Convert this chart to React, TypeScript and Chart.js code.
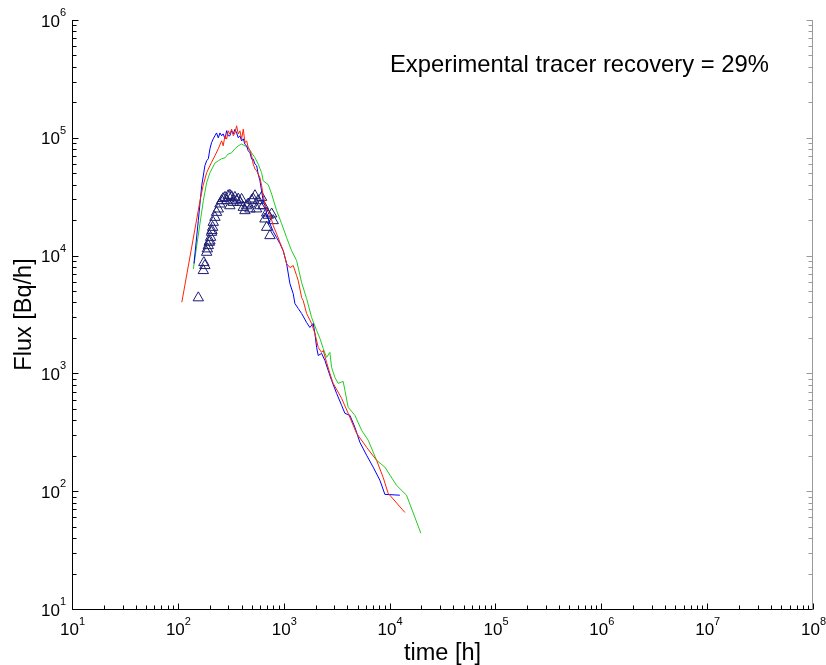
import React, { useEffect, useRef } from "react";
import { Chart, registerables } from "chart.js";

Chart.register(...registerables);

const FONT = "'Liberation Sans', Arial, sans-serif";

// axis decades (tick labels are 10^exp)
const xTickExponents = [1, 2, 3, 4, 5, 6, 7, 8];
const yTickExponents = [1, 2, 3, 4, 5, 6];

const xTitle = "time [h]";
const yTitle = "Flux [Bq/h]";
const annotation = "Experimental tracer recovery = 29%";

// Blue simulation
const blueX = [142,156,168,180,187,194,201,208,216,224,232,241,250,259,268,279,289,299,310,322,334,346,359,372,386,400,415,430,446,462,480,498,515,535,555,574,596,618,640,665,690,714,741,796,857,921,989,1065,1144,1230,1276,1371,1476,1645,1767,1899,1971,2046,2118,2280,2449,2632,2833,3159,3522,3784,4217,4702,5242,6066,7000,8096,9030,12510];
const blueY = [8560,19800,39200,57900,63800,66400,80700,90700,98000,104000,110000,100000,110000,104000,108000,98000,115000,104000,104000,115000,108000,118000,110000,100000,104000,94000,98000,88000,85500,77600,74600,66000,66000,59800,57900,49200,43200,35500,29200,26500,22700,20500,18700,16000,14200,12650,11000,8550,5790,4740,3920,3556,3226,2705,2454,2653,2183,1661,1420,1477,1289,1060,873,677,536,458,441,349,260,202,160,124,94,92.5];

// Red simulation
const redX = [109,162,173,187,194,208,224,241,259,268,279,289,299,310,322,334,346,359,372,386,400,415,430,446,462,480,498,515,535,555,574,596,618,640,690,741,796,857,921,989,1065,1144,1230,1324,1371,1476,1528,1645,1834,1971,2118,2280,2361,2541,2730,2933,3522,4064,4879,6066,7540,8700,9700,13950];
const redY = [4020,29300,39200,50500,54300,61800,70400,80700,94300,85500,104000,97500,114600,107500,118500,104000,110000,126500,107500,114600,97500,118500,90700,94300,82800,77600,70400,59800,54300,52500,49200,45800,39200,32300,24100,22700,17960,15300,12950,11000,8550,7910,8230,6770,6140,4405,4156,3226,2653,2183,1661,1507,1566,1239,1000,823,614,458,310,236,183,131,96,66];

// Green simulation
const greenX = [140,174,187,201,224,241,259,279,299,322,346,372,400,430,462,498,535,574,618,640,714,769,857,955,1065,1187,1324,1476,1645,1834,2046,2198,2361,2541,2730,2833,3045,3271,3646,3784,4064,4702,5440,6281,7540,9030,11650,14460,19750];
const greenY = [7700,29250,41560,50500,61000,63800,66400,67700,72800,74600,80700,85500,88500,85500,82800,74600,67700,59800,50500,43200,39980,33300,24100,18700,14200,11000,9070,5900,4322,2983,2314,1980,1629,1367,1507,1124,925,823,855,718,515,441,329,271,183,160,112,92.5,44];

// Experimental measurements (triangles)
const triX = [156,174,176,180,187,190,194,198,201,204,208,210,213,216,224,232,241,250,259,268,279,289,299,310,310,322,334,346,359,372,386,400,415,430,446,462,480,498,515,535,555,574,596,618,640,665,690,690,714,741,769,796];
const triY = [4381,7464,8720,8230,10670,11400,12150,12960,13300,14290,15760,16300,17370,19160,21120,23280,24880,27420,29250,30500,31200,29250,32260,26500,32500,31620,28300,31200,29250,30200,28290,30000,25670,24070,26500,27420,24900,29500,30240,32260,24900,29250,26500,31200,26530,20460,17370,23000,22000,14770,22560,19800];

const toPts = (xs: number[], ys: number[]) => xs.map((x, i) => ({ x, y: ys[i] }));

const axesPlugin = {
  id: "matlabAxes",
  afterDraw(chart: any) {
    const { ctx, chartArea: a, scales } = chart;
    const xs = scales.x;
    const ys = scales.y;
    ctx.save();
    ctx.lineWidth = 1;
    const L = Math.round(a.left) + 0.5;
    const R = Math.round(a.right) - 0.5;
    const B = Math.round(a.bottom) + 0.5;
    const xMax = xTickExponents[xTickExponents.length - 1];
    const yMax = yTickExponents[yTickExponents.length - 1];

    // right axis (light)
    ctx.strokeStyle = "#9a9a9a";
    ctx.beginPath();
    ctx.moveTo(R, a.top);
    ctx.lineTo(R, B);
    for (const e of yTickExponents) {
      for (let k = 1; k <= 9; k++) {
        if (e === yMax && k > 1) break;
        const py = Math.round(ys.getPixelForValue(k * Math.pow(10, e))) + 0.5;
        const len = k === 1 ? 6 : 4;
        ctx.moveTo(R, py);
        ctx.lineTo(R - len, py);
      }
    }
    ctx.stroke();

    ctx.strokeStyle = "#000";
    ctx.beginPath();
    ctx.moveTo(L, a.top);
    ctx.lineTo(L, B);
    ctx.lineTo(R, B);
    for (const e of xTickExponents) {
      for (let k = 1; k <= 9; k++) {
        if (e === xMax && k > 1) break;
        const px = Math.round(xs.getPixelForValue(k * Math.pow(10, e))) + 0.5;
        const len = k === 1 ? 6 : 4;
        ctx.moveTo(px, B);
        ctx.lineTo(px, B - len);
      }
    }
    for (const e of yTickExponents) {
      for (let k = 1; k <= 9; k++) {
        if (e === yMax && k > 1) break;
        const py = Math.round(ys.getPixelForValue(k * Math.pow(10, e))) + 0.5;
        const len = k === 1 ? 6 : 4;
        ctx.moveTo(L, py);
        ctx.lineTo(L + len, py);
      }
    }
    ctx.stroke();

    ctx.fillStyle = "#000";
    const baseFont = "17px " + FONT;
    const expFont = "11px " + FONT;
    // x labels
    for (const e of xTickExponents) {
      const px = xs.getPixelForValue(Math.pow(10, e));
      ctx.font = baseFont;
      ctx.textAlign = "center";
      ctx.textBaseline = "alphabetic";
      const w = ctx.measureText("10").width;
      ctx.fillText("10", px - 2.5, a.bottom + 26);
      ctx.font = expFont;
      ctx.textAlign = "left";
      ctx.fillText(String(e), px - 2.5 + w / 2, a.bottom + 16);
    }
    // y labels
    for (const e of yTickExponents) {
      const py = ys.getPixelForValue(Math.pow(10, e));
      ctx.font = baseFont;
      ctx.textAlign = "right";
      ctx.textBaseline = "alphabetic";
      ctx.fillText("10", a.left - 12, py + 6.5);
      ctx.font = expFont;
      ctx.textAlign = "left";
      ctx.fillText(String(e), a.left - 12, py - 4);
    }
    // titles
    ctx.font = "23.5px " + FONT;
    ctx.textAlign = "center";
    ctx.fillText(xTitle, (a.left + a.right) / 2, 660);
    ctx.save();
    ctx.translate(31, (a.top + a.bottom) / 2);
    ctx.rotate(-Math.PI / 2);
    ctx.fillText(yTitle, 0, 0);
    ctx.restore();
    // annotation
    ctx.font = "23.8px " + FONT;
    ctx.textAlign = "left";
    ctx.fillText(annotation, 390, 72);
    ctx.restore();
  },
};

export default function App() {
  const ref = useRef<HTMLCanvasElement | null>(null);
  useEffect(() => {
    if (!ref.current) return;
    const line = (data: any, color: string) => ({
      data,
      borderColor: color,
      backgroundColor: color,
      borderWidth: 1,
      pointRadius: 0,
      showLine: true,
      tension: 0,
      fill: false,
    });
    const chart = new Chart(ref.current, {
      type: "scatter",
      data: {
        datasets: [
          line(toPts(redX, redY), "#ff2200"),
          line(toPts(blueX, blueY), "#0000ff"),
          line(toPts(greenX, greenY), "#22cc22"),
          {
            data: toPts(triX, triY),
            showLine: false,
            pointStyle: "triangle",
            pointRadius: 6,
            borderWidth: 1,
            borderColor: "#1c1c72",
            backgroundColor: "rgba(0,0,0,0)",
          } as any,
        ],
      },
      options: {
        animation: false,
        responsive: false,
        events: [],
        layout: { padding: { top: 20, right: 13, left: 0, bottom: 0 } },
        plugins: { legend: { display: false }, tooltip: { enabled: false }, title: { display: false } },
        scales: {
          x: {
            type: "logarithmic",
            min: 10,
            max: 1e8,
            ticks: { display: false },
            grid: { display: false },
            border: { display: false },
            afterFit: (s: any) => { s.height = 56; },
          },
          y: {
            type: "logarithmic",
            min: 10,
            max: 1e6,
            ticks: { display: false },
            grid: { display: false },
            border: { display: false },
            afterFit: (s: any) => { s.width = 72; },
          },
        },
      },
      plugins: [axesPlugin],
    } as any);
    return () => chart.destroy();
  }, []);
  return (
    <div style={{ position: "absolute", left: 0, top: 0, width: 826, height: 665, background: "#fff" }}>
      <canvas ref={ref} width={826} height={665} />
    </div>
  );
}
